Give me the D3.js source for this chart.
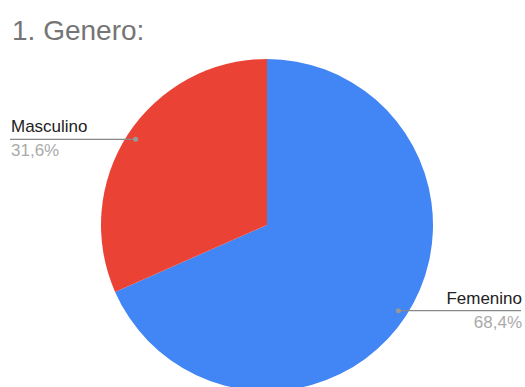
<!DOCTYPE html>
<html><head><meta charset="utf-8">
<script src="https://cdn.jsdelivr.net/npm/d3@7"></script>
<style>body{margin:0;background:#fff}</style>
</head><body>
<svg id="c" width="525" height="387"></svg>
<script>
const categories = ["Femenino", "Masculino"];
const values = [68.4, 31.6];
const pctLabels = ["68,4%", "31,6%"];
const colors = ["#4285f4", "#ea4335"];
const title = "1. Genero:";

const FONT = "Arial, 'Liberation Sans', sans-serif";
const svg = d3.select("#c");
svg.append("rect").attr("width",525).attr("height",387).attr("fill","#fff");
svg.append("text").attr("x",12).attr("y",40).attr("font-family",FONT)
  .attr("font-size",28).attr("fill","#757575").text(title);

const cx = 267, cy = 225, R = 166;
const pie = d3.pie().sort(null).value(d=>d)(values);
const arc = d3.arc().innerRadius(0).outerRadius(R);
const g = svg.append("g").attr("transform",`translate(${cx},${cy})`);
g.selectAll("path").data(pie).join("path").attr("d",arc).attr("fill",(d,i)=>colors[i]);

const dotArc = d3.arc().innerRadius(R*0.945).outerRadius(R*0.945);
pie.forEach((d,i)=>{
  const [px,py] = dotArc.centroid(d);
  const x = cx+px, y = cy+py;
  const right = px>0;
  const endX = right ? 521 : 10;
  svg.append("line").attr("x1",x).attr("y1",y).attr("x2",endX).attr("y2",y)
    .attr("stroke","#888").attr("stroke-width",1.2);
  svg.append("circle").attr("cx",x).attr("cy",y).attr("r",2.5).attr("fill","#999");
  const anchor = right ? "end" : "start";
  const tx = right ? 522 : 11;
  svg.append("text").attr("x",tx).attr("y",y-7).attr("text-anchor",anchor)
    .attr("font-family",FONT).attr("font-size",17).attr("fill","#222").text(categories[i]);
  svg.append("text").attr("x",tx).attr("y",y+17).attr("text-anchor",anchor)
    .attr("font-family",FONT).attr("font-size",17).attr("fill","#aaaaaa").text(pctLabels[i]);
});
</script>
</body></html>
